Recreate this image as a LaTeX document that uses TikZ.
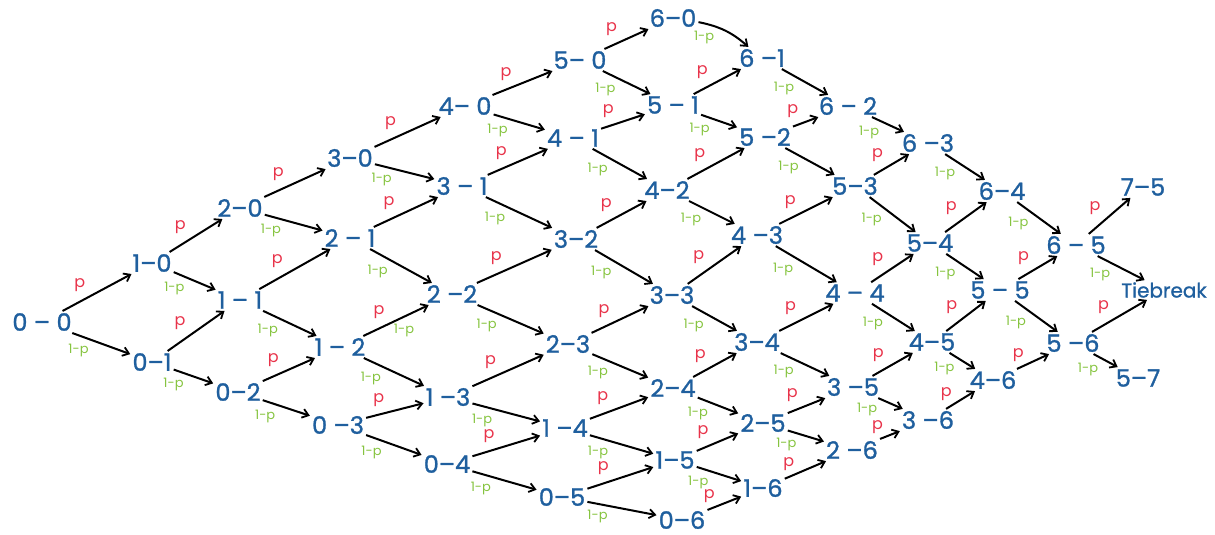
\documentclass[tikz,border=0pt]{standalone}
\usepackage{fontspec}
\setmainfont{Poppins}
\usetikzlibrary{arrows.meta}
\definecolor{sblue}{HTML}{1F5F9E}
\definecolor{pred}{HTML}{E8334A}
\definecolor{qgreen}{HTML}{86C440}
\begin{document}
\begin{tikzpicture}[x=1pt,y=-1pt,
  score/.style={text=sblue, font=\fontsize{24}{24}\selectfont\addfontfeature{FakeBold=1.2}, inner sep=2pt},
  arr/.style={-{Straight Barb[length=6pt,width=9pt,line width=1.8pt]}, line width=2pt, shorten >=0pt, shorten <=0pt},
  plab/.style={text=pred, font=\fontsize{16}{16}\selectfont, auto, pos=0.4, inner sep=4pt},
  qlab/.style={text=qgreen, font=\fontsize{13}{13}\selectfont, auto, swap, pos=0.35, inner sep=3pt}]
\useasboundingbox (0,0) rectangle (1215,535);
% scores
\node[score] (n00) at (42,322) {0 -- 0};
\node[score] (n10) at (152,263) {1--0};
\node[score] (n01) at (152,362) {0--1};
\node[score] (n20) at (240,208) {2--0};
\node[score] (n11) at (240,300) {1 -- 1};
\node[score] (n02) at (238,392) {0--2};
\node[score] (n30) at (350,158) {3--0};
\node[score] (n21) at (350,238) {2 -- 1};
\node[score] (n12) at (340,347) {1 -- 2};
\node[score] (n03) at (338,425) {0 --3};
\node[score] (n40) at (465,106) {4-- 0};
\node[score] (n31) at (462,186) {3 -- 1};
\node[score] (n22) at (452,294) {2 --2};
\node[score] (n13) at (448,397) {1 --3};
\node[score] (n04) at (447,464) {0--4};
\node[score] (n50) at (580,60) {5-- 0};
\node[score] (n41) at (573,138) {4 -- 1};
\node[score] (n32) at (576,239) {3--2};
\node[score] (n23) at (568,344) {2--3};
\node[score] (n14) at (565,428) {1 --4};
\node[score] (n05) at (562,497) {0--5};
\node[score] (n60) at (673,18) {6--0};
\node[score] (n51) at (673,105) {5 -- 1};
\node[score] (n42) at (667,190) {4--2};
\node[score] (n33) at (672,295) {3--3};
\node[score] (n24) at (673,388) {2--4};
\node[score] (n15) at (675,460) {1--5};
\node[score] (n06) at (682,520) {0--6};
\node[score] (n61) at (762,58) {6 --1};
\node[score] (n52) at (765,137) {5 --2};
\node[score] (n43) at (757,235) {4 --3};
\node[score] (n34) at (757,342) {3--4};
\node[score] (n25) at (763,423) {2--5};
\node[score] (n16) at (763,488) {1--6};
\node[score] (n62) at (848,106) {6 -- 2};
\node[score] (n53) at (855,186) {5--3};
\node[score] (n44) at (855,293) {4 -- 4};
\node[score] (n35) at (853,387) {3 --5};
\node[score] (n26) at (852,450) {2 --6};
\node[score] (n63) at (928,143) {6 --3};
\node[score] (n54) at (930,243) {5--4};
\node[score] (n45) at (932,342) {4--5};
\node[score] (n36) at (928,420) {3 --6};
\node[score] (n64) at (1002,191) {6--4};
\node[score] (n55) at (1000,290) {5 -- 5};
\node[score] (n46) at (993,380) {4--6};
\node[score] (n65) at (1076,245) {6 -- 5};
\node[score] (n56) at (1073,343) {5 --6};
\node[score] (n75) at (1143,187) {7--5};
\node[score, font=\fontsize{20}{20}\selectfont\addfontfeature{FakeBold=1}] (tb) at (1164,290) {Tiebreak};
\node[score] (n57) at (1138,378) {5--7};
% edges
\foreach \i in {0,...,5}{\foreach \j in {0,...,5}{
  \pgfmathtruncatemacro\ii{\i+1}\pgfmathtruncatemacro\jj{\j+1}
  \pgfmathsetmacro\qp{and(\i==3,\j==5) ? 0.12 : 0.35}
  \draw[arr] (n\i\j) -- node[plab]{p} (n\ii\j);
  \draw[arr] (n\i\j) -- node[qlab, pos=\qp]{1-p} (n\i\jj);
}}
\foreach \i in {0,...,4}{
  \pgfmathtruncatemacro\ii{\i+1}
  \draw[arr] (n\i6) -- node[plab, pos=0.3, inner sep=2pt]{p} (n\ii6);
}
\draw[arr] (n60) to[bend left=15] node[qlab]{1-p} (n61);
\foreach \j in {1,...,4}{
  \pgfmathtruncatemacro\jj{\j+1}
  \draw[arr] (n6\j) -- node[qlab]{1-p} (n6\jj);
}
\draw[arr] (n65) -- node[plab]{p} (n75);
\draw[arr] (n65) -- node[qlab]{1-p} (tb);
\draw[arr] (n56) -- node[plab]{p} (tb);
\draw[arr] (n56) -- node[qlab]{1-p} (n57);
\node[text=qgreen, font=\fontsize{13}{13}\selectfont] (extra) at (404,330) {1-p};
\end{tikzpicture}
\end{document}
